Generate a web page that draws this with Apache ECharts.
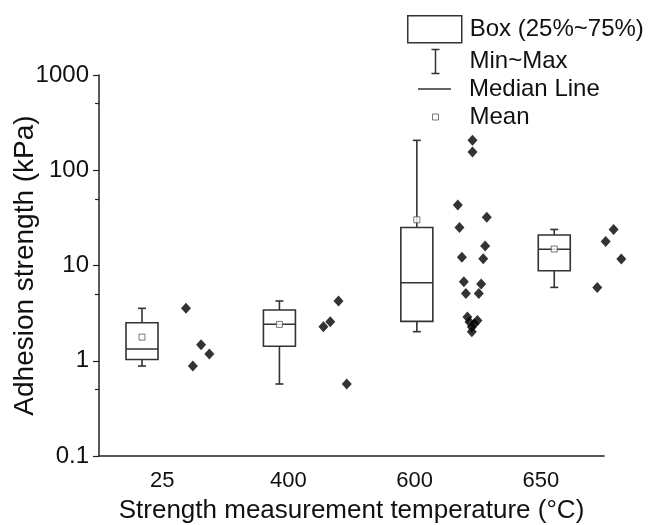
<!DOCTYPE html>
<html>
<head>
<meta charset="utf-8">
<script src="https://cdn.jsdelivr.net/npm/echarts@6/dist/echarts.min.js"></script>
<style>
  html, body { margin: 0; padding: 0; background: #fff; }
  #chart { width: 649px; height: 525px; }
</style>
</head>
<body>
<div id="chart"></div>
<script>
// Temperatures (category labels) and axis ticks
const categories = ['25', '400', '600', '650'];
const yTicks = [0.1, 1, 10, 100, 1000];
const yMinorTicks = [0.5, 5, 50, 500];

// Box statistics per temperature (kPa)
const boxMin = [0.88, 0.57, 2.02, 5.89];
const boxQ1 = [1.03, 1.42, 2.59, 8.8];
const boxMedian = [1.33, 2.42, 6.6, 14.8];
const boxQ3 = [2.51, 3.41, 25.1, 20.9];
const boxMax = [3.55, 4.24, 206, 23.9];
const boxMean = [1.77, 2.41, 30.2, 14.9];

// Individual adhesion measurements (kPa)
const points25 = [3.55, 1.47, 1.18, 0.88];
const points400 = [4.24, 2.57, 2.27, 0.57];
const points600 = [206, 155, 43.1, 32.2, 25.1, 16.0, 12.2, 11.8, 6.75, 6.38, 5.09, 5.09, 2.88, 2.65, 2.55, 2.45, 2.26, 2.02];
const points650 = [23.9, 17.9, 11.7, 5.89];

// ---- layout (horizontal placement on the hidden data axis) ----
const GROUP_X0 = 0.313;          // position of first box on the data axis
const DATA_AXIS_MAX = 3.675;     // span of the data axis across the plot
const jitter = [
  [0.32, 0.43, 0.49, 0.37],
  [0.43, 0.37, 0.32, 0.49],
  [0.405, 0.405, 0.298, 0.509, 0.31, 0.497, 0.328, 0.483, 0.342, 0.468, 0.357, 0.451, 0.368, 0.441, 0.383, 0.419, 0.40, 0.40],
  [0.432, 0.374, 0.488, 0.313]
];
const BOX_HALF = 16;   // px
const CAP_HALF = 4;    // px
const LINE_COLOR = '#333';
const FONT = 'Liberation Sans, Arial, sans-serif';

const groupPoints = [points25, points400, points600, points650];
const groupX = categories.map((_, i) => GROUP_X0 + i);

const boxData = categories.map((_, i) => [groupX[i], boxQ1[i], boxQ3[i]]);
const whiskerData = categories.map((_, i) => [groupX[i], boxMin[i], boxQ1[i], boxQ3[i], boxMax[i]]);
const medianData = categories.map((_, i) => [groupX[i], boxMedian[i]]);
const meanData = categories.map((_, i) => [groupX[i], boxMean[i]]);
const scatterData = [];
groupPoints.forEach((arr, g) => {
  arr.forEach((v, k) => scatterData.push([groupX[g] + jitter[g][k], v]));
});

const chart = echarts.init(document.getElementById('chart'), null, { renderer: 'canvas' });

const legendBase = {
  orient: 'horizontal',
  padding: 0,
  selectedMode: false,
  textStyle: { fontSize: 24, color: '#111', fontFamily: FONT }
};

chart.setOption({
  animation: false,
  backgroundColor: '#fff',
  textStyle: { fontFamily: FONT },
  grid: { left: 99, right: 45, top: 75, bottom: 69, containLabel: false, outerBoundsMode: 'none' },
  legend: [
    Object.assign({}, legendBase, {
      left: 407, top: 15, itemWidth: 54, itemHeight: 27,
      data: [{ name: 'Box (25%~75%)', icon: 'rect',
        itemStyle: { color: '#fff', borderColor: LINE_COLOR, borderWidth: 1.5 },
        textStyle: { padding: [0, 0, 0, 3] } }]
    }),
    Object.assign({}, legendBase, {
      left: 429, top: 47, itemWidth: 54, itemHeight: 24,
      data: [{ name: 'Min~Max', icon: 'path://M0,0H8M4,0V24M0,24H8',
        itemStyle: { color: 'none', borderColor: LINE_COLOR, borderWidth: 1.5 },
        textStyle: { padding: [0, 0, 0, 2] } }]
    }),
    Object.assign({}, legendBase, {
      left: 418, top: 77, itemWidth: 33, itemHeight: 1.5,
      data: [{ name: 'Median Line', icon: 'rect',
        itemStyle: { color: LINE_COLOR, borderWidth: 0 },
        textStyle: { padding: [0, 0, 0, 13] } }]
    }),
    Object.assign({}, legendBase, {
      left: 432, top: 105, itemWidth: 6, itemHeight: 6,
      data: [{ name: 'Mean', icon: 'rect',
        itemStyle: { color: '#fff', borderColor: '#555', borderWidth: 1 },
        textStyle: { padding: [0, 0, 0, 26] } }]
    })
  ],
  xAxis: [
    {
      type: 'category',
      data: categories,
      boundaryGap: true,
      name: 'Strength measurement temperature (°C)',
      nameLocation: 'middle',
      nameGap: 42,
      nameMoveOverlap: false,
      nameTextStyle: { fontSize: 26, color: '#111', fontFamily: FONT },
      axisLine: { lineStyle: { color: '#222', width: 1.5 } },
      axisTick: { alignWithLabel: true, length: 6, lineStyle: { color: '#222', width: 1.2 } },
      axisLabel: { fontSize: 22, color: '#111', margin: 14, fontFamily: FONT },
      splitLine: { show: false }
    },
    {
      type: 'value',
      min: 0,
      max: DATA_AXIS_MAX,
      show: false
    }
  ],
  yAxis: [
    {
      type: 'log',
      logBase: 10,
      min: 0.1,
      max: 1000,
      name: 'Adhesion strength (kPa)',
      nameLocation: 'middle',
      nameGap: 60,
      nameRotate: 90,
      nameMoveOverlap: false,
      nameTextStyle: { fontSize: 28, color: '#111', fontFamily: FONT },
      axisLine: { show: true, lineStyle: { color: '#222', width: 1.5 } },
      axisTick: { show: true, length: 6, customValues: yTicks, lineStyle: { color: '#222', width: 1.2 } },
      axisLabel: { fontSize: 24, color: '#111', margin: 10, customValues: yTicks, fontFamily: FONT,
        formatter: v => String(v) },
      splitLine: { show: false }
    },
    {
      type: 'log',
      logBase: 10,
      min: 0.1,
      max: 1000,
      position: 'left',
      axisLine: { show: false },
      axisTick: { show: true, length: 4, customValues: yMinorTicks, lineStyle: { color: '#222', width: 1.2 } },
      axisLabel: { show: false },
      splitLine: { show: false }
    }
  ],
  series: [
    {
      name: 'Box (25%~75%)',
      type: 'custom',
      xAxisIndex: 1,
      yAxisIndex: 0,
      clip: false,
      encode: { x: 0, y: [1, 2] },
      data: boxData,
      itemStyle: { color: '#fff', borderColor: LINE_COLOR },
      renderItem: function (params, api) {
        const x = api.value(0);
        const top = api.coord([x, api.value(2)]);
        const bot = api.coord([x, api.value(1)]);
        return {
          type: 'rect',
          shape: { x: top[0] - BOX_HALF, y: top[1], width: BOX_HALF * 2, height: bot[1] - top[1] },
          style: { fill: '#fff', stroke: LINE_COLOR, lineWidth: 1.6 }
        };
      }
    },
    {
      name: 'Min~Max',
      type: 'custom',
      xAxisIndex: 1,
      yAxisIndex: 0,
      clip: false,
      encode: { x: 0, y: [1, 4] },
      data: whiskerData,
      itemStyle: { color: LINE_COLOR },
      renderItem: function (params, api) {
        const x = api.value(0);
        const pMin = api.coord([x, api.value(1)]);
        const pQ1 = api.coord([x, api.value(2)]);
        const pQ3 = api.coord([x, api.value(3)]);
        const pMax = api.coord([x, api.value(4)]);
        const st = { stroke: LINE_COLOR, lineWidth: 1.6 };
        return {
          type: 'group',
          children: [
            { type: 'line', shape: { x1: pMax[0], y1: pMax[1], x2: pQ3[0], y2: pQ3[1] }, style: st },
            { type: 'line', shape: { x1: pMin[0], y1: pMin[1], x2: pQ1[0], y2: pQ1[1] }, style: st },
            { type: 'line', shape: { x1: pMax[0] - CAP_HALF, y1: pMax[1], x2: pMax[0] + CAP_HALF, y2: pMax[1] }, style: st },
            { type: 'line', shape: { x1: pMin[0] - CAP_HALF, y1: pMin[1], x2: pMin[0] + CAP_HALF, y2: pMin[1] }, style: st }
          ]
        };
      }
    },
    {
      name: 'Median Line',
      type: 'custom',
      xAxisIndex: 1,
      yAxisIndex: 0,
      clip: false,
      encode: { x: 0, y: 1 },
      data: medianData,
      itemStyle: { color: LINE_COLOR },
      renderItem: function (params, api) {
        const p = api.coord([api.value(0), api.value(1)]);
        return {
          type: 'line',
          shape: { x1: p[0] - BOX_HALF, y1: p[1], x2: p[0] + BOX_HALF, y2: p[1] },
          style: { stroke: LINE_COLOR, lineWidth: 1.6 }
        };
      }
    },
    {
      name: 'Mean',
      type: 'scatter',
      xAxisIndex: 1,
      yAxisIndex: 0,
      clip: false,
      data: meanData,
      symbol: 'rect',
      symbolSize: 6,
      itemStyle: { color: '#fff', borderColor: '#555', borderWidth: 1 },
      z: 4
    },
    {
      name: 'Data',
      type: 'scatter',
      xAxisIndex: 1,
      yAxisIndex: 0,
      clip: false,
      data: scatterData,
      symbol: 'diamond',
      symbolSize: [10, 11],
      itemStyle: { color: '#000' },
      z: 5
    }
  ]
});
</script>
</body>
</html>
